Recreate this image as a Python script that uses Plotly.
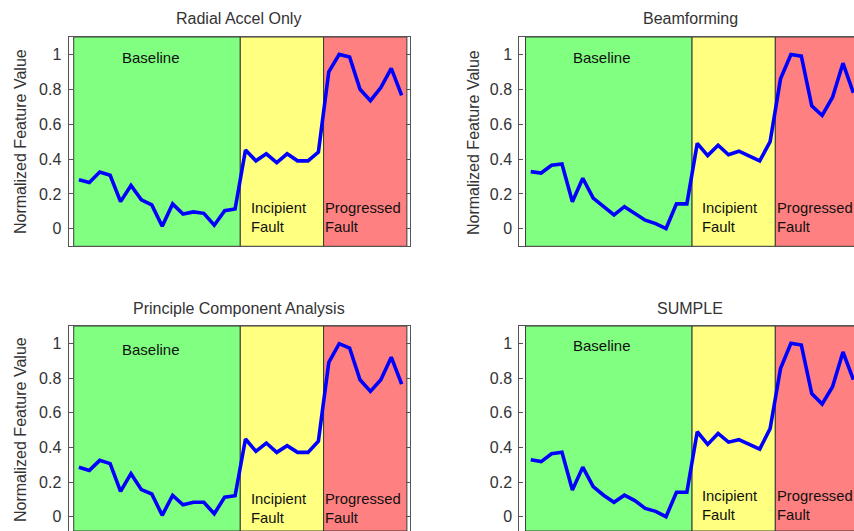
import plotly.graph_objects as go

# Sample index (1..32) and normalized feature values for each method
samples = list(range(1, 33))

radial_accel = [0.282, 0.266, 0.326, 0.307, 0.156, 0.249, 0.166, 0.137, 0.015, 0.143,
                0.085, 0.097, 0.089, 0.021, 0.104, 0.114, 0.452, 0.390, 0.430, 0.380,
                0.430, 0.390, 0.390, 0.440, 0.900, 1.000, 0.985, 0.800, 0.735, 0.810,
                0.920, 0.765]
beamforming = [0.328, 0.320, 0.365, 0.372, 0.156, 0.290, 0.176, 0.127, 0.080, 0.127,
               0.089, 0.050, 0.030, 0.002, 0.143, 0.143, 0.490, 0.420, 0.480, 0.425,
               0.445, 0.415, 0.390, 0.500, 0.860, 1.000, 0.990, 0.705, 0.650, 0.755,
               0.950, 0.780]
pca = [0.285, 0.267, 0.325, 0.306, 0.146, 0.248, 0.156, 0.131, 0.008, 0.123,
       0.069, 0.083, 0.083, 0.017, 0.113, 0.121, 0.448, 0.377, 0.425, 0.371,
       0.410, 0.371, 0.371, 0.435, 0.890, 0.998, 0.973, 0.790, 0.723, 0.790,
       0.920, 0.765]
sumple = [0.328, 0.318, 0.363, 0.372, 0.154, 0.286, 0.174, 0.124, 0.083, 0.124,
          0.093, 0.048, 0.031, 0.000, 0.141, 0.141, 0.490, 0.417, 0.480, 0.430,
          0.444, 0.417, 0.390, 0.508, 0.855, 1.000, 0.990, 0.710, 0.650, 0.750,
          0.950, 0.790]

titles = ["Radial Accel Only", "Beamforming", "Principle Component Analysis", "SUMPLE"]
series = [radial_accel, beamforming, pca, sumple]

# Fault phases: boundaries in sample units, fill colours and labels
phase_bounds = [0.5, 16.5, 24.5, 32.5]
phase_colors = ["#80FF80", "#FFFF80", "#FF8080"]
phase_labels = ["Baseline", "Incipient<br>Fault", "Progressed<br>Fault"]
phase_label_x = [5.0, 17.4, 24.55]

ytick_vals = [0, 0.2, 0.4, 0.6, 0.8, 1]
ytick_text = ["0", "0.2", "0.4", "0.6", "0.8", "1"]

W, H = 854, 531
FONT = "Arial, Liberation Sans, Helvetica, sans-serif"
AX = "#555555"


def px_x(p):
    return p / W


def px_y(p):
    return 1 - p / H


# Panel geometry (pixel boxes) and axis ranges
panels = [
    dict(x0=68.5, x1=410, y0=37, y1=246.3, xr=[0.0, 32.8], yr=[-0.1, 1.1],
         ymirror="ticks", xside="bottom", ytitle=True, title_cx=239, title_cy=18,
         ytitle_x=20, ytitle_cy=142, base_y=0.98, low_y=0.066),
    dict(x0=519.3, x1=854, y0=37, y1=246.3, xr=[-0.1, 32.06], yr=[-0.1, 1.1],
         ymirror=False, xside="bottom", ytitle=True, title_cx=690, title_cy=18,
         ytitle_x=473, ytitle_cy=142, base_y=0.98, low_y=0.066),
    dict(x0=68.5, x1=410, y0=326, y1=531, xr=[0.0, 32.8], yr=[-0.0825, 1.1],
         ymirror="ticks", xside="top", ytitle=True, title_cx=239, title_cy=308,
         ytitle_x=20, ytitle_cy=430, base_y=0.965, low_y=0.05),
    dict(x0=519.3, x1=854, y0=326, y1=531, xr=[-0.1, 32.06], yr=[-0.0825, 1.1],
         ymirror=False, xside="top", ytitle=False, title_cx=690, title_cy=308,
         ytitle_x=473, ytitle_cy=430, base_y=0.99, low_y=0.066),
]

fig = go.Figure()
shapes = []
annotations = []
layout_axes = {}

for k, (p, vals, ttl) in enumerate(zip(panels, series, titles), start=1):
    xa = "x" if k == 1 else f"x{k}"
    ya = "y" if k == 1 else f"y{k}"
    xname = "xaxis" if k == 1 else f"xaxis{k}"
    yname = "yaxis" if k == 1 else f"yaxis{k}"

    layout_axes[xname] = dict(
        domain=[px_x(p["x0"]), px_x(p["x1"])], range=p["xr"], anchor=ya,
        side=p["xside"], showline=True, linecolor=AX, linewidth=1,
        mirror=(p["xside"] == "bottom"), showgrid=False, zeroline=False,
        showticklabels=False, ticks="", fixedrange=True,
    )
    layout_axes[yname] = dict(
        domain=[px_y(p["y1"]), px_y(p["y0"])], range=p["yr"], anchor=xa,
        showline=True, linecolor=AX, linewidth=1, mirror=p["ymirror"],
        showgrid=False, zeroline=False, ticks="inside", ticklen=4,
        tickcolor=AX, tickwidth=1, tickvals=ytick_vals, ticktext=ytick_text,
        tickfont=dict(family=FONT, size=16, color="#333333"),
        ticklabelstandoff=3, fixedrange=True,
    )

    # Coloured phase bands
    for i in range(3):
        shapes.append(dict(
            type="rect", xref=xa, yref=f"{ya} domain",
            x0=phase_bounds[i], x1=phase_bounds[i + 1], y0=0, y1=1,
            fillcolor=phase_colors[i], line=dict(color="#3a3a3a", width=1),
            layer="below",
        ))

    # Feature trace
    fig.add_trace(go.Scatter(
        x=samples, y=vals, xaxis=xa, yaxis=ya, mode="lines",
        line=dict(color="#0000FF", width=3.6), showlegend=False,
        hoverinfo="skip",
    ))

    # Phase labels
    annotations.append(dict(
        xref=xa, yref=ya, x=phase_label_x[0], y=p["base_y"], text=phase_labels[0],
        showarrow=False, xanchor="left", yanchor="middle", borderpad=0,
        font=dict(family=FONT, size=15, color="#111111"),
    ))
    for i in (1, 2):
        annotations.append(dict(
            xref=xa, yref=ya, x=phase_label_x[i], y=p["low_y"], text=phase_labels[i],
            showarrow=False, xanchor="left", yanchor="middle", align="left",
            borderpad=0, font=dict(family=FONT, size=14.8, color="#111111"),
        ))

    # Panel title
    annotations.append(dict(
        xref="paper", yref="paper", x=px_x(p["title_cx"]), y=px_y(p["title_cy"]),
        text=ttl, showarrow=False, xanchor="center", yanchor="middle",
        font=dict(family=FONT, size=16, color="#333333"),
    ))

    # Y-axis title
    if p["ytitle"]:
        annotations.append(dict(
            xref="paper", yref="paper", x=px_x(p["ytitle_x"]), y=px_y(p["ytitle_cy"]),
            text="Normalized Feature Value", textangle=-90, showarrow=False,
            xanchor="center", yanchor="middle",
            font=dict(family=FONT, size=16, color="#333333"),
        ))

fig.update_layout(
    width=W, height=H, margin=dict(l=0, r=0, t=0, b=0),
    paper_bgcolor="white", plot_bgcolor="white",
    shapes=shapes, annotations=annotations, showlegend=False,
    **layout_axes,
)

fig.write_html("out.html", config={"displayModeBar": False})
